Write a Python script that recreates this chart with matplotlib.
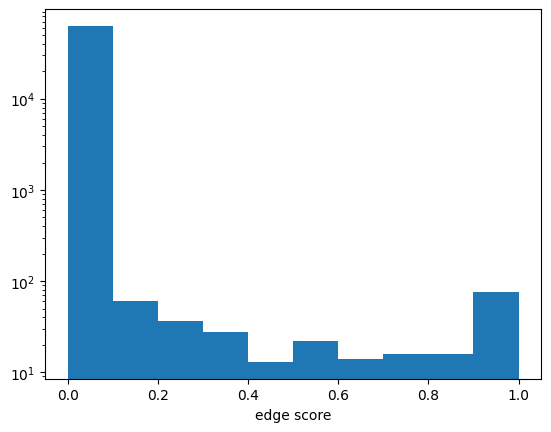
import numpy as np
import matplotlib
matplotlib.use("Agg")
import matplotlib.pyplot as plt

# histogram of edge scores, 10 bins over [0, 1]
bin_edges = [0.0, 0.1, 0.2, 0.3, 0.4, 0.5, 0.6, 0.7, 0.8, 0.9, 1.0]
counts = [63000, 60, 37, 28, 13, 22, 14, 16, 16, 76]

centers = [(a + b) / 2 for a, b in zip(bin_edges[:-1], bin_edges[1:])]

fig, ax = plt.subplots(figsize=(6.4, 4.8))
ax.hist(centers, bins=bin_edges, weights=counts, log=True)
ax.set_xlabel("edge score")

fig.savefig("out.png", bbox_inches="tight")
